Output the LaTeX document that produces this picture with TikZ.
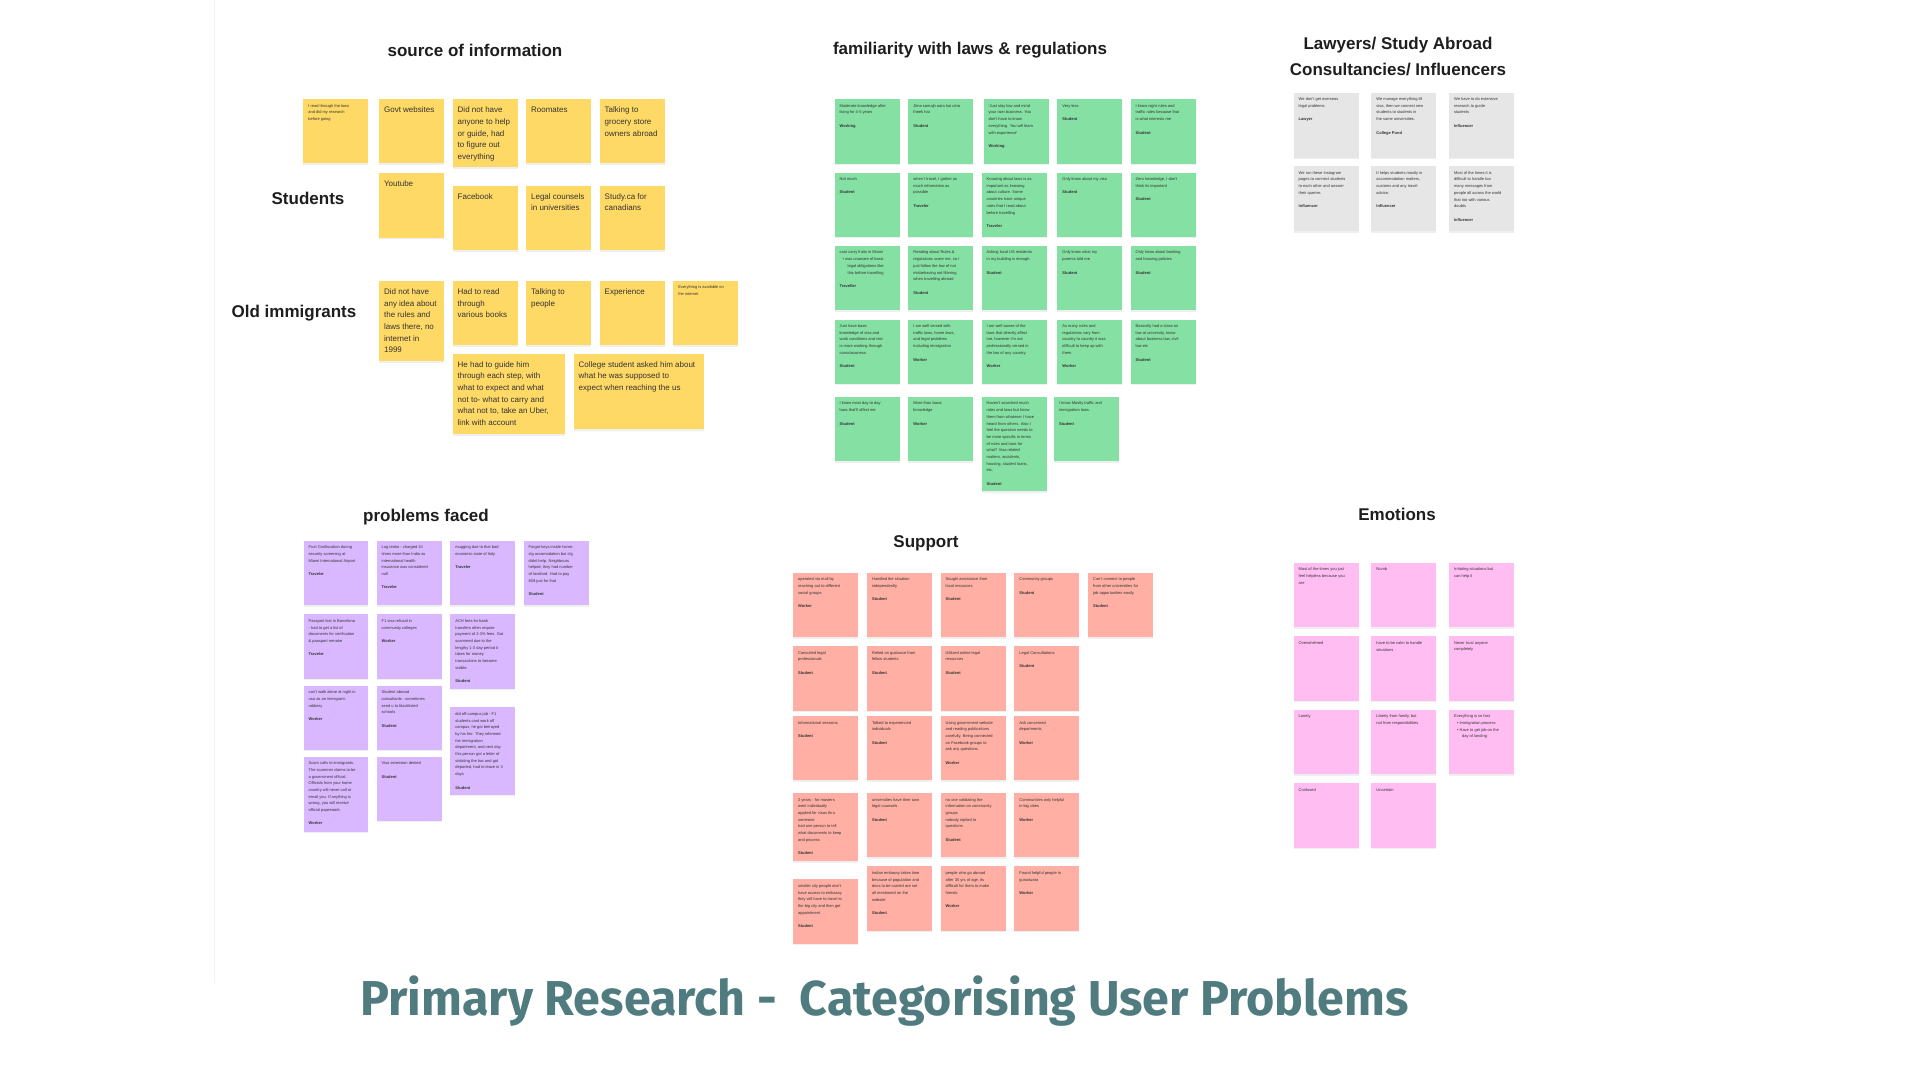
\documentclass[tikz,border=0pt]{standalone}
\usepackage{fontspec}
\usepackage{graphicx}
\setmainfont{Liberation Sans}
\newfontfamily\titlefont{Fira Sans}
\usetikzlibrary{shadows}
\definecolor{stY}{HTML}{FFD966}
\definecolor{stG}{HTML}{85E0A3}
\definecolor{stL}{HTML}{E6E6E6}
\definecolor{stP}{HTML}{D9B8FF}
\definecolor{stR}{HTML}{FFAFA3}
\definecolor{stE}{HTML}{FFBDF2}
\definecolor{headc}{HTML}{1E1E1E}
\definecolor{notec}{HTML}{333333}
\definecolor{titlec}{HTML}{507C80}
\newlength\pxu \setlength\pxu{0.5pt}
\newcommand\nbox[3]{\begin{minipage}[t][\dimexpr#2\pxu-10\pxu\relax][t]{\dimexpr#1\pxu-10\pxu\relax}\raggedright#3\end{minipage}}
\newcommand\nt[7]{\node[note=#6] (#1) at (#2,#3) {\nbox{#4}{#5}{#7}};}
\newcommand\bt{\fontsize{4}{5.85}\selectfont\vspace*{1.3pt}}
\newcommand\role[1]{\par\vspace{3.35pt}\textbf{#1}}
\newcommand\bul{\hspace*{1.5pt}\textbullet\ }
\newcommand\ind{\hspace*{4pt}}
\tikzset{
  note/.style={anchor=north west, inner sep=2.5pt, fill=#1, text=notec,
    font=\fontsize{2}{3.35}\selectfont,
    drop shadow={opacity=0.12, shadow xshift=0pt, shadow yshift=-0.6pt}},
  head/.style={font=\fontsize{8.5}{13}\selectfont\bfseries, text=headc, inner sep=0pt, anchor=center, align=center}
}
\begin{document}
\begin{tikzpicture}[x=0.5pt, y=-0.5pt]
\useasboundingbox[fill=white] (0,0) rectangle (1920,1080);
\draw[black!5] (214,0) -- (214,983);

% ---------- headings ----------
\node[head] (hsrc) at (475,50) {source of information};
\node[head] (hfam) at (970,50) {familiarity with laws \& regulations};
\node[head] (hlaw) at (1398,57) {Lawyers/ Study Abroad\\Consultancies/ Influencers};
\node[head] (hprob) at (426,517) {problems faced};
\node[head] (hsup) at (926,543) {Support};
\node[head] (hemo) at (1397,514) {Emotions};
\node[head] (hstu) at (308,198) {Students};
\node[head] (hold) at (294,313) {Old immigrants};

% ---------- source of information (yellow) ----------
\nt{y1}{303}{99}{65}{64}{stY}{I read through the laws\\and did my research\\before going}
\nt{y2}{378.7}{99}{65}{64}{stY}{\bt Govt websites}
\nt{y3}{452.3}{99}{65}{68}{stY}{\bt Did not have\\anyone to help\\or guide, had\\to figure out\\everything}
\nt{y4}{525.7}{99}{65}{64}{stY}{\bt Roomates}
\nt{y5}{599.3}{99}{65}{64}{stY}{\bt Talking to\\grocery store\\owners abroad}
\nt{y6}{378.7}{172.3}{65}{65}{stY}{\bt Youtube}
\nt{y7}{452.3}{185.3}{65}{64.7}{stY}{\bt Facebook}
\nt{y8}{525.7}{185.3}{65}{64.7}{stY}{\bt Legal counsels\\in universities}
\nt{y9}{599.3}{185.3}{65}{64.7}{stY}{\bt Study.ca for\\canadians}
\nt{y10}{378.7}{280.7}{65}{80.3}{stY}{\bt Did not have\\any idea about\\the rules and\\laws there, no\\internet in\\1999}
\nt{y11}{452.3}{280.7}{65}{64.3}{stY}{\bt Had to read\\through\\various books}
\nt{y12}{525.7}{280.7}{65}{64.3}{stY}{\bt Talking to\\people}
\nt{y13}{599.3}{280.7}{65}{64.3}{stY}{\bt Experience}
\nt{y14}{673}{280.7}{65}{64.3}{stY}{Everything is available on\\the internet}
\nt{y15}{452.3}{353.3}{112.4}{80.7}{stY}{\bt He had to guide him\\through each step, with\\what to expect and what\\not to- what to carry and\\what not to, take an Uber,\\link with account}
\nt{y16}{573.3}{353.3}{130}{75.7}{stY}{\bt College student asked him about\\what he was supposed to\\expect when reaching the us}

% ---------- familiarity (green) ----------
\nt{g11}{834.3}{99}{65}{64.3}{stG}{Moderate knowledge after\\living for 4-5 years\role{Working}}
\nt{g12}{908}{99}{65}{64.3}{stG}{Jitna samajh aata hai utna\\theek hai\role{Student}}
\nt{g13}{983.3}{99}{65}{64.3}{stG}{`Just stay low and mind\\your own business. You\\don't have to know\\everything. You will learn\\with experience'\role{Working}}
\nt{g14}{1057}{99}{65}{64.3}{stG}{Very less\role{Student}}
\nt{g15}{1130.3}{99}{65}{64.3}{stG}{I know night rules and\\traffic rules because that\\is what interests me\role{Student}}
\nt{g21}{834.3}{172.3}{65}{64.3}{stG}{Not much\role{Student}}
\nt{g22}{908}{172.3}{65}{64.3}{stG}{when I travel, I gather as\\much information as\\possible\role{Traveler}}
\nt{g23}{981.3}{172.3}{65}{64.3}{stG}{Knowing about laws is as\\important as knowing\\about culture. Some\\countries have unique\\rules that I read about\\before travelling\role{Traveler}}
\nt{g24}{1057}{172.3}{65}{64.3}{stG}{Only know about my visa\role{Student}}
\nt{g25}{1130.3}{172.3}{65}{64.3}{stG}{Zero knowledge, I don't\\think its important\role{Student}}
\nt{g31}{834.3}{245.7}{65}{64.3}{stG}{cant carry fruits in Miami\\\bul was unaware of basic\\\ind legal obligations like\\\ind this before travelling\role{Traveller}}
\nt{g32}{908}{245.7}{65}{64.3}{stG}{Reading about Rules \&\\regulations scare me, so I\\just follow the law of not\\misbehaving not littering\\when travelling abroad\role{Student}}
\nt{g33}{981.3}{245.7}{65}{64.3}{stG}{Asking local US residents\\in my building is enough\role{Student}}
\nt{g34}{1057}{245.7}{65}{64.3}{stG}{Only know what my\\parents told me\role{Student}}
\nt{g35}{1130.3}{245.7}{65}{64.3}{stG}{Only know about banking\\and housing policies\role{Student}}
\nt{g41}{834.3}{319.3}{65}{64.3}{stG}{Just have basic\\knowledge of visa and\\work conditions and rest\\is more working through\\consciousness.\role{Student}}
\nt{g42}{908}{319.3}{65}{64.3}{stG}{I am well versed with\\traffic laws, home laws,\\and legal problems\\including immigration\role{Worker}}
\nt{g43}{981.3}{319.3}{65}{64.3}{stG}{I am well aware of the\\laws that directly affect\\me, however I'm not\\professionally versed in\\the law of any country.\role{Worker}}
\nt{g44}{1057}{319.3}{65}{64.3}{stG}{As many rules and\\regulations vary from\\country to country it was\\difficult to keep up with\\them.\role{Worker}}
\nt{g45}{1130.3}{319.3}{65}{64.3}{stG}{Basically had a class on\\law at university, know\\about business law, civil\\law etc\role{Student}}
\nt{g51}{834.3}{396.7}{65}{64.3}{stG}{I know most day to day\\laws that'll affect me\role{Student}}
\nt{g52}{908}{396.7}{65}{64.3}{stG}{More than basic\\knowledge\role{Worker}}
\nt{g53}{981.3}{396.7}{65}{94.3}{stG}{Haven't searched much\\rules and laws but know\\them from whatever I have\\heard from others. Also I\\feel the question needs to\\be more specific in terms\\of rules and laws for\\what? Visa related\\matters, accidents,\\housing, student loans,\\etc.\role{Student}}
\nt{g54}{1053.7}{396.7}{65}{64.3}{stG}{I know Mostly traffic and\\immigration laws.\role{Student}}

% ---------- lawyers (gray) ----------
\nt{l1}{1293.3}{92.3}{65}{65}{stL}{We don't get overseas\\legal problems\role{Lawyer}}
\nt{l2}{1371}{92.3}{65}{65}{stL}{We manage everything till\\visa, then we connect new\\students to students in\\the same universities.\role{College Pond}}
\nt{l3}{1448.7}{92.3}{65}{65}{stL}{We have to do extensive\\research to guide\\students\role{Influencer}}
\nt{l4}{1293.3}{166}{65}{65}{stL}{We run these Instagram\\pages to connect students\\to each other and answer\\their queries\role{Influencer}}
\nt{l5}{1371}{166}{65}{65}{stL}{It helps students mostly in\\accommodation matters,\\customs and any travel\\advice.\role{Influencer}}
\nt{l6}{1448.7}{166}{65}{65}{stL}{Most of the times it is\\difficult to handle too\\many messages from\\people all across the world\\that too with various\\doubts\role{Influencer}}

% ---------- problems faced (purple) ----------
\nt{p11}{303.3}{540.3}{64.4}{64.7}{stP}{Fruit Confiscation during\\security screening at\\Miami International Airport\role{Traveler}}
\nt{p12}{376.3}{540.3}{65}{64.7}{stP}{Log tenko - charged 10\\times more than India as\\international health\\insurance was considered\\null\role{Traveler}}
\nt{p13}{450}{540.3}{65}{64.7}{stP}{mugging due to that bad\\economic state of Italy\role{Traveler}}
\nt{p14}{523.3}{540.3}{65}{64.7}{stP}{Forgot keys inside home-\\clg accomodation but clg\\didnt help. Neighbours\\helped, they had number\\of landlord. Had to pay\\80\$ just for that\role{Student}}
\nt{p21}{303.3}{614}{64.4}{64.3}{stP}{Passport lost in Barcelona\\- had to get a list of\\documents for verification\\\& passport remake\role{Traveler}}
\nt{p22}{376.3}{614}{65}{64.3}{stP}{F1 visa refusal in\\community colleges\role{Worker}}
\nt{p23}{450}{614}{65}{74.3}{stP}{ACH fees for bank\\transfers often require\\payment of 2-3\% fees. Got\\scammed due to the\\lengthy 1-3 day period it\\takes for money\\transactions to become\\visible.\role{Student}}
\nt{p31}{303.3}{685.3}{64.4}{64}{stP}{can't walk alone at night in\\usa as an immigrant-\\robbery\role{Worker}}
\nt{p32}{376.3}{685.3}{65}{64}{stP}{Student abroad\\consultants - sometimes\\send u to blacklisted\\schools\role{Student}}
\nt{p33}{450}{707}{65}{87.7}{stP}{did off-campus job - F1\\students cant work off\\campus, he got betrayed\\by his fmr. They informed\\the immigration\\department, and next day\\this person got a letter of\\violating the law and got\\deported, had to leave in 3\\days\role{Student}}
\nt{p41}{303.3}{756.3}{64.4}{75.4}{stP}{Scam calls to immigrants.\\The scammer claims to be\\a government official.\\Officials from your home\\country will never call or\\email you. If anything is\\wrong, you will receive\\official paperwork.\role{Worker}}
\nt{p42}{376.3}{756.3}{65}{64.4}{stP}{Visa extension denied\role{Student}}

% ---------- support (red) ----------
\nt{r11}{792.7}{572.3}{65}{64.7}{stR}{operated via mail by\\reaching out to different\\social groups\role{Worker}}
\nt{r12}{866.7}{572.3}{65}{64.7}{stR}{Handled the situation\\independently\role{Student}}
\nt{r13}{940.3}{572.3}{65}{64.7}{stR}{Sought assistance from\\local resources\role{Student}}
\nt{r14}{1014}{572.3}{64.7}{64.7}{stR}{Community groups\role{Student}}
\nt{r15}{1087.7}{572.3}{65}{64.7}{stR}{Can't connect to people\\from other universities for\\job opportunities easily\role{Student}}
\nt{r21}{792.7}{645.7}{65}{64.6}{stR}{Consulted legal\\professionals\role{Student}}
\nt{r22}{866.7}{645.7}{65}{64.6}{stR}{Relied on guidance from\\fellow students\role{Student}}
\nt{r23}{940.3}{645.7}{65}{64.6}{stR}{Utilized online legal\\resources\role{Student}}
\nt{r24}{1014}{645.7}{64.7}{64.6}{stR}{Legal Consultations\role{Student}}
\nt{r31}{792.7}{715.7}{65}{64.3}{stR}{Informational sessions\role{Student}}
\nt{r32}{866.7}{715.7}{65}{64.3}{stR}{Talked to experienced\\individuals\role{Student}}
\nt{r33}{940.3}{715.7}{65}{64.3}{stR}{Using government website\\and reading publications\\carefully. Being connected\\on Facebook groups to\\ask any questions.\role{Worker}}
\nt{r34}{1014}{715.7}{64.7}{64.3}{stR}{Ask concerned\\departments\role{Worker}}
\nt{r41}{792.7}{792.7}{65}{68.3}{stR}{2 years - for masters\\went individually\\applied for visas thru\\someone\\had one person to tell\\what documents to keep\\and process\role{Student}}
\nt{r42}{866.7}{792.7}{65}{64.3}{stR}{universities have their own\\legal counsels\role{Student}}
\nt{r43}{940.3}{792.7}{65}{64.3}{stR}{no one validating the\\information on community\\groups\\nobody replied to\\questions\role{Student}}
\nt{r44}{1014}{792.7}{64.7}{64.3}{stR}{Communities only helpful\\in big cities\role{Worker}}
\nt{r51}{792.7}{879}{65}{64.3}{stR}{smaller city people don't\\have access to embassy\\they will have to travel to\\the big city and then get\\appointment\role{Student}}
\nt{r52}{866.7}{866}{65}{64.7}{stR}{Indian embassy takes time\\because of population and\\docs to be carried are not\\all mentioned on the\\website\role{Student}}
\nt{r53}{940.3}{866}{65}{64.7}{stR}{people who go abroad\\after 35 yrs of age, its\\difficult for them to make\\friends\role{Worker}}
\nt{r54}{1014}{866}{64.7}{64.7}{stR}{Found helpful people in\\gurudwara\role{Worker}}

% ---------- emotions (pink) ----------
\nt{e11}{1293.3}{562.3}{65}{64.7}{stE}{Most of the times you just\\feel helpless because you\\are}
\nt{e12}{1371}{562.3}{65}{64.7}{stE}{Numb}
\nt{e13}{1448.7}{562.3}{65}{64.7}{stE}{Irritating situations but\\can help it}
\nt{e21}{1293.3}{636}{65}{64.7}{stE}{Overwhelmed}
\nt{e22}{1371}{636}{65}{64.7}{stE}{have to be calm to handle\\situations}
\nt{e23}{1448.7}{636}{65}{64.7}{stE}{Never trust anyone\\completely}
\nt{e31}{1293.3}{709.3}{65}{64.7}{stE}{Lonely}
\nt{e32}{1371}{709.3}{65}{64.7}{stE}{Liberty from family, but\\not from responsibilities}
\nt{e33}{1448.7}{709.3}{65}{64.7}{stE}{Everything is so fast\\\bul Immigration process\\\bul Have to get job on the\\\ind day of landing}
\nt{e41}{1293.3}{782.7}{65}{64.7}{stE}{Confused}
\nt{e42}{1371}{782.7}{65}{64.7}{stE}{Uncertain}

% ---------- title ----------
\node[anchor=base west, inner sep=0pt, text=titlec] (title) at (360,1015)
  {\resizebox{524pt}{\height}{\titlefont\bfseries\fontsize{24.5}{30}\selectfont Primary Research -\ \ Categorising User Problems}};
\end{tikzpicture}
\end{document}
